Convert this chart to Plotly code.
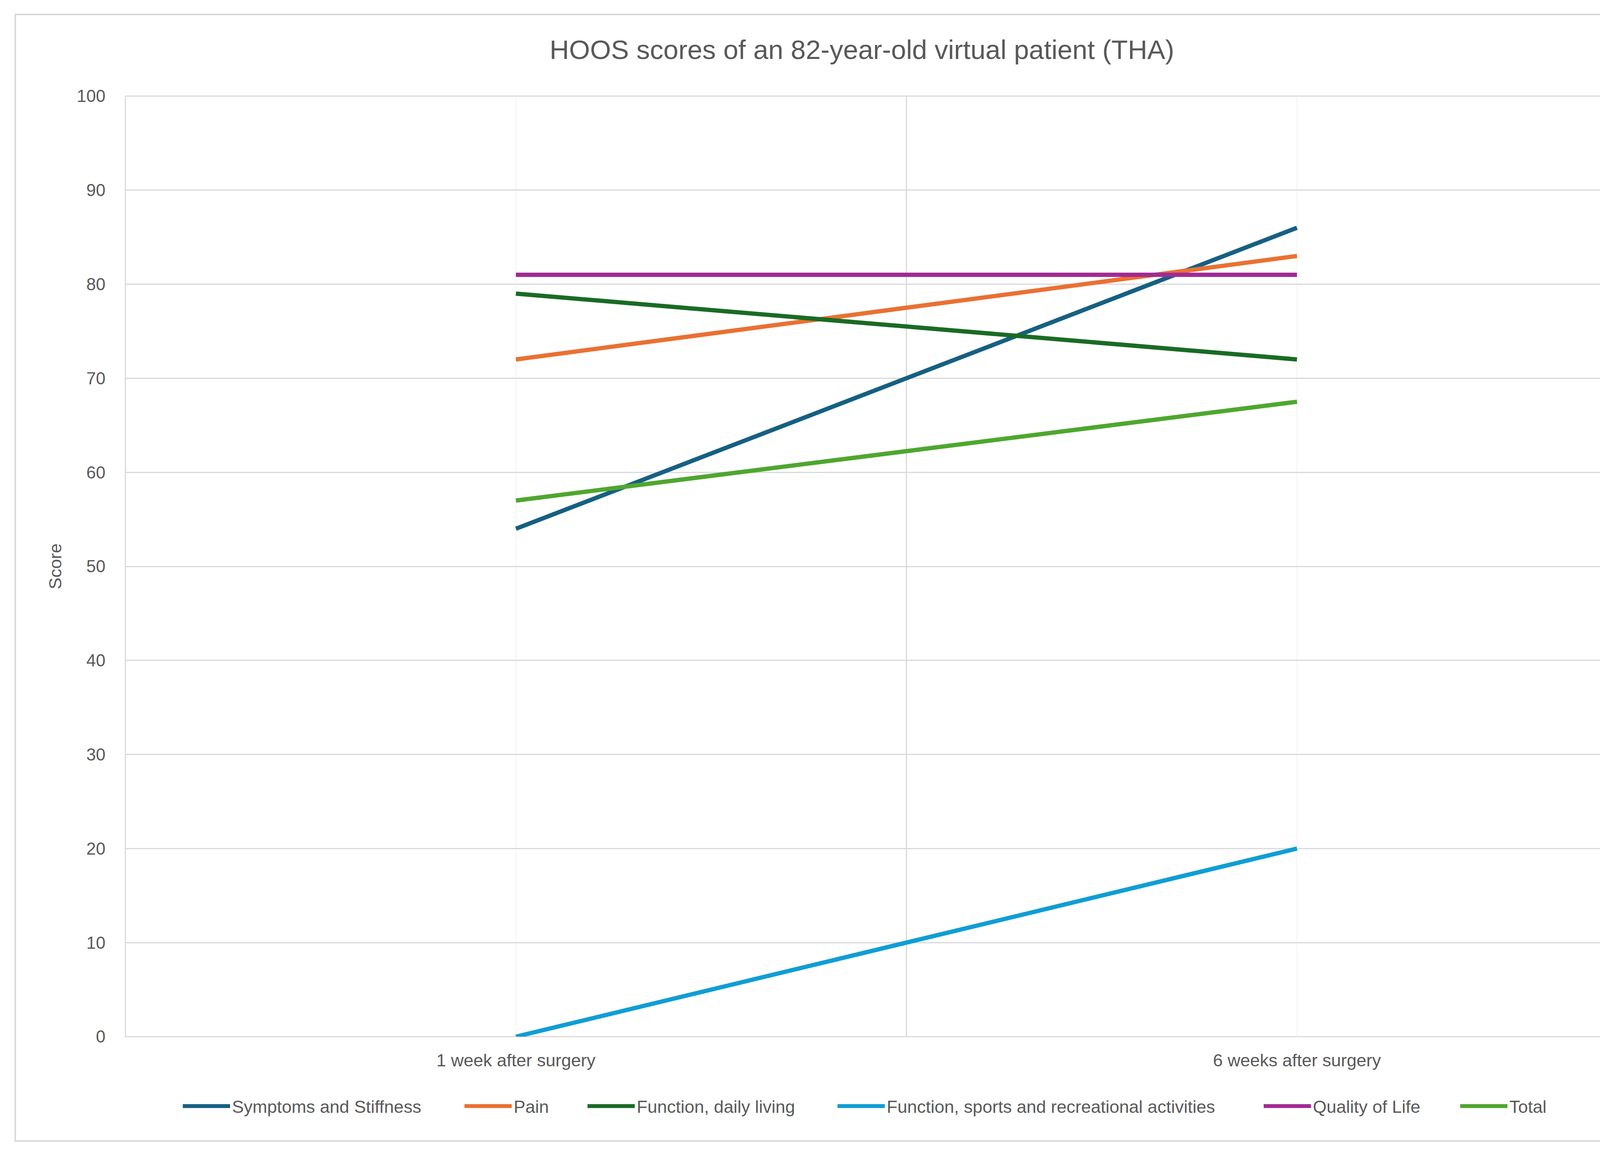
import plotly.graph_objects as go

categories = ["1 week after surgery", "6 weeks after surgery"]
series_names = ["Symptoms and Stiffness", "Pain", "Function, daily living",
                "Function, sports and recreational activities", "Quality of Life", "Total"]
symptoms = [54, 86]
pain = [72, 83]
function_daily = [79, 72]
function_sports = [0, 20]
quality_of_life = [81, 81]
total = [57, 67.5]
colors = ["#156082", "#E97132", "#196B24", "#0F9ED5", "#A02B93", "#4EA72E"]
y_ticks = list(range(0, 101, 10))

W, H = 4413, 2957
PL, PR, PT, PB = 321, 4320, 246, 2654
PW, PH = PR - PL, PB - PT
FONT = "Liberation Sans"
TXT = "#595959"
GRID = "#D9D9D9"
# legend symbol left edges (px) for each entry
LEG_X = [468, 1189, 1504, 2144, 3235, 3738]
LEG_Y = 2832
SYM_W = 121

xpos = list(range(len(categories)))
fig = go.Figure()
legends = {}
for i, (name, vals, col) in enumerate(zip(series_names,
                           [symptoms, pain, function_daily, function_sports, quality_of_life, total],
                           colors)):
    lg = "legend" if i == 0 else f"legend{i + 1}"
    fig.add_trace(go.Scatter(x=xpos, y=vals, name=name, mode="lines", legend=lg,
                             line=dict(color=col, width=11), cliponaxis=False))
    legends[lg] = dict(orientation="h", x=(LEG_X[i] - 5 - PL) / PW, xref="paper", xanchor="left",
                       y=-(LEG_Y - PB) / PH, yanchor="middle",
                       font=dict(family=FONT, size=45, color=TXT),
                       itemwidth=SYM_W, bgcolor="rgba(0,0,0,0)", borderwidth=0)

fig.update_layout(
    width=W, height=H,
    paper_bgcolor="white", plot_bgcolor="white",
    margin=dict(l=PL, r=W - PR, t=PT, b=H - PB, autoexpand=False),
    font=dict(family=FONT, size=45, color=TXT),
    title=dict(text="HOOS scores of an 82-year-old virtual patient (THA)",
               x=0.5, xref="container", xanchor="center",
               y=1 - 127 / H, yref="container", yanchor="middle",
               font=dict(family=FONT, size=69, color=TXT)),
    showlegend=True,
    xaxis=dict(range=[-0.5, 1.5], tickmode="array", tickvals=xpos, ticktext=categories,
               showgrid=True, gridcolor="#F2F2F2", gridwidth=2,
               minor=dict(tick0=0.5, dtick=1, showgrid=True, gridcolor=GRID, gridwidth=3),
               showline=False, zeroline=False, ticks="", ticklabelstandoff=30,
               tickfont=dict(family=FONT, size=45, color=TXT)),
    yaxis=dict(range=[0, 100], tickmode="array", tickvals=y_ticks,
               showgrid=True, gridcolor=GRID, gridwidth=3,
               showline=False, zeroline=False, ticks="", ticklabelstandoff=50,
               title=dict(text="Score", standoff=24, font=dict(family=FONT, size=45, color=TXT)),
               tickfont=dict(family=FONT, size=44, color=TXT)),
    shapes=[
        dict(type="rect", xref="paper", yref="paper", x0=0, x1=1, y0=0, y1=1,
             line=dict(color=GRID, width=3), fillcolor="rgba(0,0,0,0)", layer="below"),
        dict(type="rect", xref="paper", yref="paper",
             x0=(39 - PL) / PW, x1=(4379 - PL) / PW,
             y0=-(2921 - PB) / PH, y1=1 + (PT - 37) / PH,
             line=dict(color=GRID, width=4), fillcolor="rgba(0,0,0,0)", layer="below"),
    ],
    **legends,
)

fig.write_html("out.html", post_script="document.body.style.margin='0';")
